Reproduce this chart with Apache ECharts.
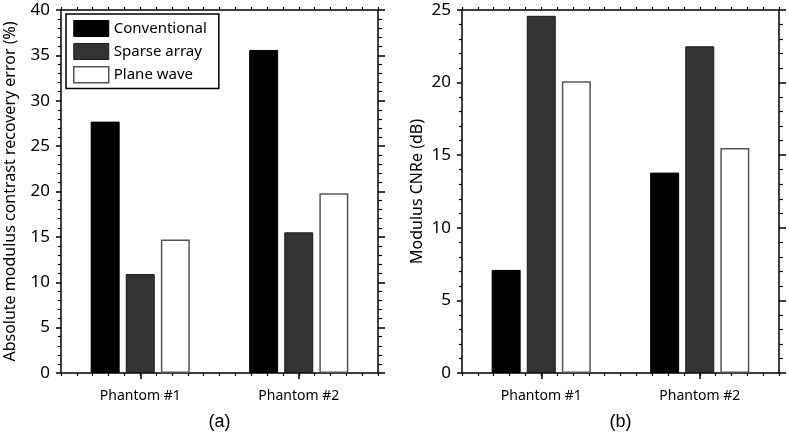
<!DOCTYPE html>
<html>
<head>
<meta charset="utf-8">
<script src="https://cdn.jsdelivr.net/npm/echarts@6/dist/echarts.min.js"></script>
<style>
html,body{margin:0;padding:0;background:#fff;}
#chart{width:788px;height:434px;}
</style>
</head>
<body>
<div id="chart"></div>
<script>
const categories = ['Phantom #1', 'Phantom #2'];
const seriesNames = ['Conventional', 'Sparse array', 'Plane wave'];
// Panel (a): Absolute modulus contrast recovery error (%)
const errConventional = [27.7, 35.6];
const errSparse = [10.9, 15.5];
const errPlane = [14.7, 19.8];
// Panel (b): Modulus CNRe (dB)
const cnrConventional = [7.1, 13.8];
const cnrSparse = [24.6, 22.5];
const cnrPlane = [20.1, 15.5];
const panelLabels = ['(a)', '(b)'];
const yNames = ['Absolute modulus contrast recovery error (%)', 'Modulus CNRe (dB)'];
const yMax = [40, 25];

const FONT = 'Noto Sans';
const black = '#000';
const styles = [
  { color: '#000', borderColor: '#000', borderWidth: 1 },
  { color: '#333', borderColor: '#1a1a1a', borderWidth: 1 },
  { color: '#fff', borderColor: '#555', borderWidth: 1.5 }
];

const grids = [
  { left: 61, top: 10, width: 317, height: 363 },
  { left: 462, top: 10, width: 317, height: 363 }
];

const xAxes = [];
const yAxes = [];
[0, 1].forEach(g => {
  xAxes.push({
    gridIndex: g, type: 'category', data: categories, position: 'bottom',
    axisLine: { show: false },
    axisTick: { show: true, alignWithLabel: true, length: 6, lineStyle: { color: black, width: 1.5 } },
    axisLabel: { color: black, fontFamily: FONT, fontSize: 14, margin: 16 },
    splitLine: { show: false }
  });
  xAxes.push({
    gridIndex: g, type: 'value', position: 'bottom', min: 0.5, max: 2.5, interval: 0.1,
    axisLine: { show: true, onZero: false, lineStyle: { color: black, width: 1.5 } },
    axisTick: { show: true, length: 3, lineStyle: { color: black, width: 1.2 } },
    axisLabel: { show: false }, splitLine: { show: false }
  });
  xAxes.push({
    gridIndex: g, type: 'category', data: categories, position: 'top',
    axisLine: { show: false },
    axisTick: { show: true, alignWithLabel: true, length: 6, lineStyle: { color: black, width: 1.5 } },
    axisLabel: { show: false }, splitLine: { show: false }
  });
  xAxes.push({
    gridIndex: g, type: 'value', position: 'top', min: 0.5, max: 2.5, interval: 0.1,
    axisLine: { show: true, onZero: false, lineStyle: { color: black, width: 1.5 } },
    axisTick: { show: true, length: 3, lineStyle: { color: black, width: 1.2 } },
    axisLabel: { show: false }, splitLine: { show: false }
  });
  yAxes.push({
    gridIndex: g, type: 'value', position: 'left', min: 0, max: yMax[g], interval: 5,
    name: yNames[g], nameLocation: 'middle', nameGap: g === 0 ? 43 : 37,
    nameTextStyle: { color: black, fontFamily: FONT, fontSize: 16 },
    axisLine: { show: true, onZero: false, lineStyle: { color: black, width: 1.5 } },
    axisTick: { show: true, length: 5, lineStyle: { color: black, width: 1.5 } },
    minorTick: { show: true, splitNumber: 5, length: 3, lineStyle: { color: black, width: 1.2 } },
    axisLabel: { color: black, fontFamily: FONT, fontSize: 17, margin: 11 },
    splitLine: { show: false }, minorSplitLine: { show: false }
  });
  yAxes.push({
    gridIndex: g, type: 'value', position: 'right', min: 0, max: yMax[g], interval: 5,
    axisLine: { show: true, onZero: false, lineStyle: { color: black, width: 1.5 } },
    axisTick: { show: true, length: 7, lineStyle: { color: black, width: 1.5 } },
    minorTick: { show: true, splitNumber: 5, length: 4, lineStyle: { color: black, width: 1.2 } },
    axisLabel: { show: false },
    splitLine: { show: false }, minorSplitLine: { show: false }
  });
});

const panelData = [
  [errConventional, errSparse, errPlane],
  [cnrConventional, cnrSparse, cnrPlane]
];
const series = [];
[0, 1].forEach(g => {
  panelData[g].forEach((vals, i) => {
    series.push({
      name: seriesNames[i], type: 'bar',
      xAxisIndex: g * 4, yAxisIndex: g * 2,
      data: vals, barWidth: 29, barGap: '21%',
      itemStyle: styles[i],
      emphasis: { disabled: true },
      animation: false
    });
  });
});

const chart = echarts.init(document.getElementById('chart'), null, { renderer: 'canvas' });
chart.setOption({
  animation: false,
  backgroundColor: '#fff',
  grid: grids,
  xAxis: xAxes,
  yAxis: yAxes,
  legend: {
    data: seriesNames.map((n, i) => ({ name: n, itemStyle: styles[i] })),
    orient: 'vertical', left: 66, top: 14,
    padding: [6, 12, 5, 7],
    itemWidth: 35, itemHeight: 16, itemGap: 6,
    icon: 'rect',
    borderColor: black, borderWidth: 1.5,
    backgroundColor: '#fff',
    selectedMode: false,
    textStyle: { color: black, fontFamily: FONT, fontSize: 15 }
  },
  graphic: panelLabels.map((t, g) => ({
    type: 'text', x: grids[g].left + grids[g].width / 2, y: 422,
    style: { text: t, fontFamily: 'Liberation Sans', fontSize: 18, fill: black, align: 'center', verticalAlign: 'middle' }
  })),
  series: series
});
</script>
</body>
</html>
